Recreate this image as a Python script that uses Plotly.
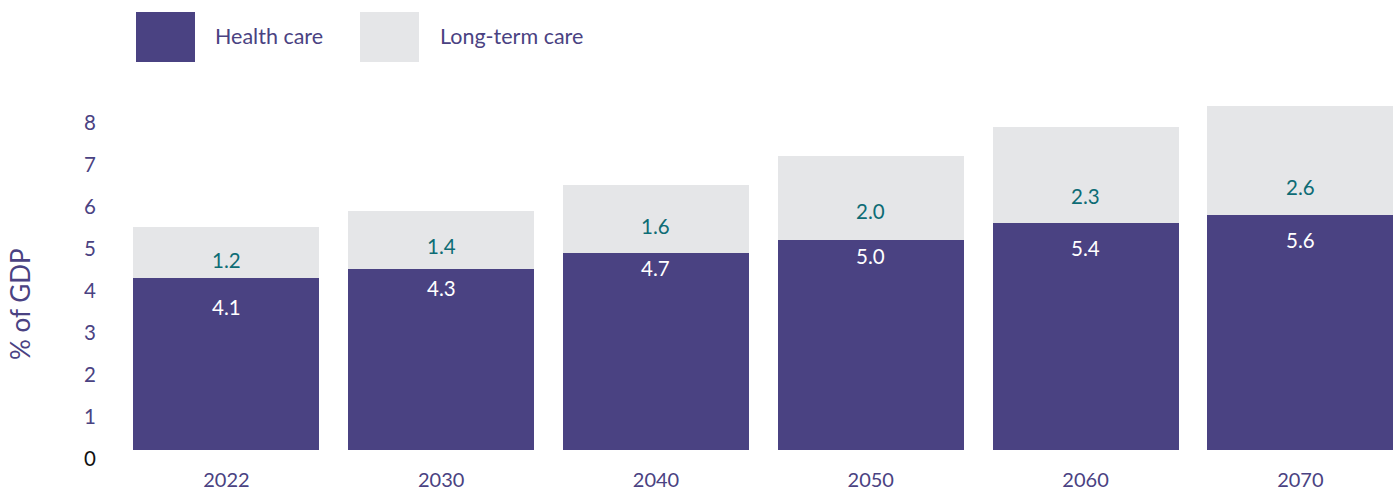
import plotly.graph_objects as go

# Public spending projections, % of GDP
years = ["2022", "2030", "2040", "2050", "2060", "2070"]
health_care = [4.1, 4.3, 4.7, 5.0, 5.4, 5.6]
long_term_care = [1.2, 1.4, 1.6, 2.0, 2.3, 2.6]
y_ticks = [0, 1, 2, 3, 4, 5, 6, 7, 8]

# Styling
PURPLE = "#4a4282"
GREY = "#e5e6e8"
TEAL = "#0d6c75"
FONT = "Lato"

W, H = 1394, 492
M_L, M_R, M_T, M_B = 119, 0, 93, 42

# Per-label vertical nudges (pixels) for the value labels
health_label_shift = [-29, -19, -15, -16, -25, -25]
ltc_label_shift = [18, 23, 27, 29, 27, 28]

fig = go.Figure()
fig.add_trace(go.Bar(x=years, y=health_care, name="Health care",
                     marker=dict(color=PURPLE, line=dict(width=0)),
                     hoverinfo="skip"))
fig.add_trace(go.Bar(x=years, y=long_term_care, name="Long-term care",
                     marker=dict(color=GREY, line=dict(width=0)),
                     hoverinfo="skip"))

annotations = []
for i, yr in enumerate(years):
    annotations.append(dict(x=i, y=health_care[i], xref="x", yref="y",
                            text=f"{health_care[i]:.1f}", showarrow=False,
                            yshift=health_label_shift[i],
                            font=dict(family=FONT, size=20.5, color="white")))
    annotations.append(dict(x=i, y=health_care[i], xref="x", yref="y",
                            text=f"{long_term_care[i]:.1f}", showarrow=False,
                            yshift=ltc_label_shift[i],
                            font=dict(family=FONT, size=20.5, color=TEAL)))

# Pixel -> paper helpers for the legend block above the plot
pw = W - M_L - M_R
ph = H - M_T - M_B
def px(x):
    return (x - M_L) / pw
def py(y):
    return (H - M_B - y) / ph

shapes = []
legend_items = [("Health care", PURPLE, 136, 213), ("Long-term care", GREY, 360, 438)]
for label, col, x0, tx in legend_items:
    shapes.append(dict(type="rect", xref="paper", yref="paper",
                       x0=px(x0), x1=px(x0 + 59), y0=py(62), y1=py(12),
                       fillcolor=col, line=dict(width=0), layer="above"))
    annotations.append(dict(x=px(tx), y=py(36), xref="paper", yref="paper",
                            xanchor="left", yanchor="middle", showarrow=False,
                            text=label,
                            font=dict(family=FONT, size=21.5, color=PURPLE)))

# Vertical axis title
annotations.append(dict(x=px(20), y=py(304), xref="paper", yref="paper",
                        xanchor="center", yanchor="middle", showarrow=False,
                        text="% of GDP", textangle=-90,
                        font=dict(family=FONT, size=26, color=PURPLE)))

tick_text = ['<span style="color:#111111">0</span>'] + [str(t) for t in y_ticks[1:]]

fig.update_layout(
    width=W, height=H,
    margin=dict(l=M_L, r=M_R, t=M_T, b=M_B, pad=0, autoexpand=False),
    barmode="stack", bargap=0.134,
    showlegend=False,
    plot_bgcolor="white", paper_bgcolor="white",
    font=dict(family=FONT, color=PURPLE),
    xaxis=dict(type="category", range=[-0.5, 5.436], showgrid=False,
               zeroline=False, showline=False, ticks="", automargin=False,
               ticklabelstandoff=16,
               tickfont=dict(family=FONT, size=20, color=PURPLE)),
    yaxis=dict(range=[0, 8.5], tickmode="array", tickvals=y_ticks,
               ticktext=tick_text, showgrid=False, zeroline=False,
               showline=False, ticks="", ticklabelstandoff=22,
               ticklabelshift=9, automargin=False,
               tickfont=dict(family=FONT, size=20.5, color=PURPLE)),
    shapes=shapes,
    annotations=annotations,
)

fig.write_html("out.html")
